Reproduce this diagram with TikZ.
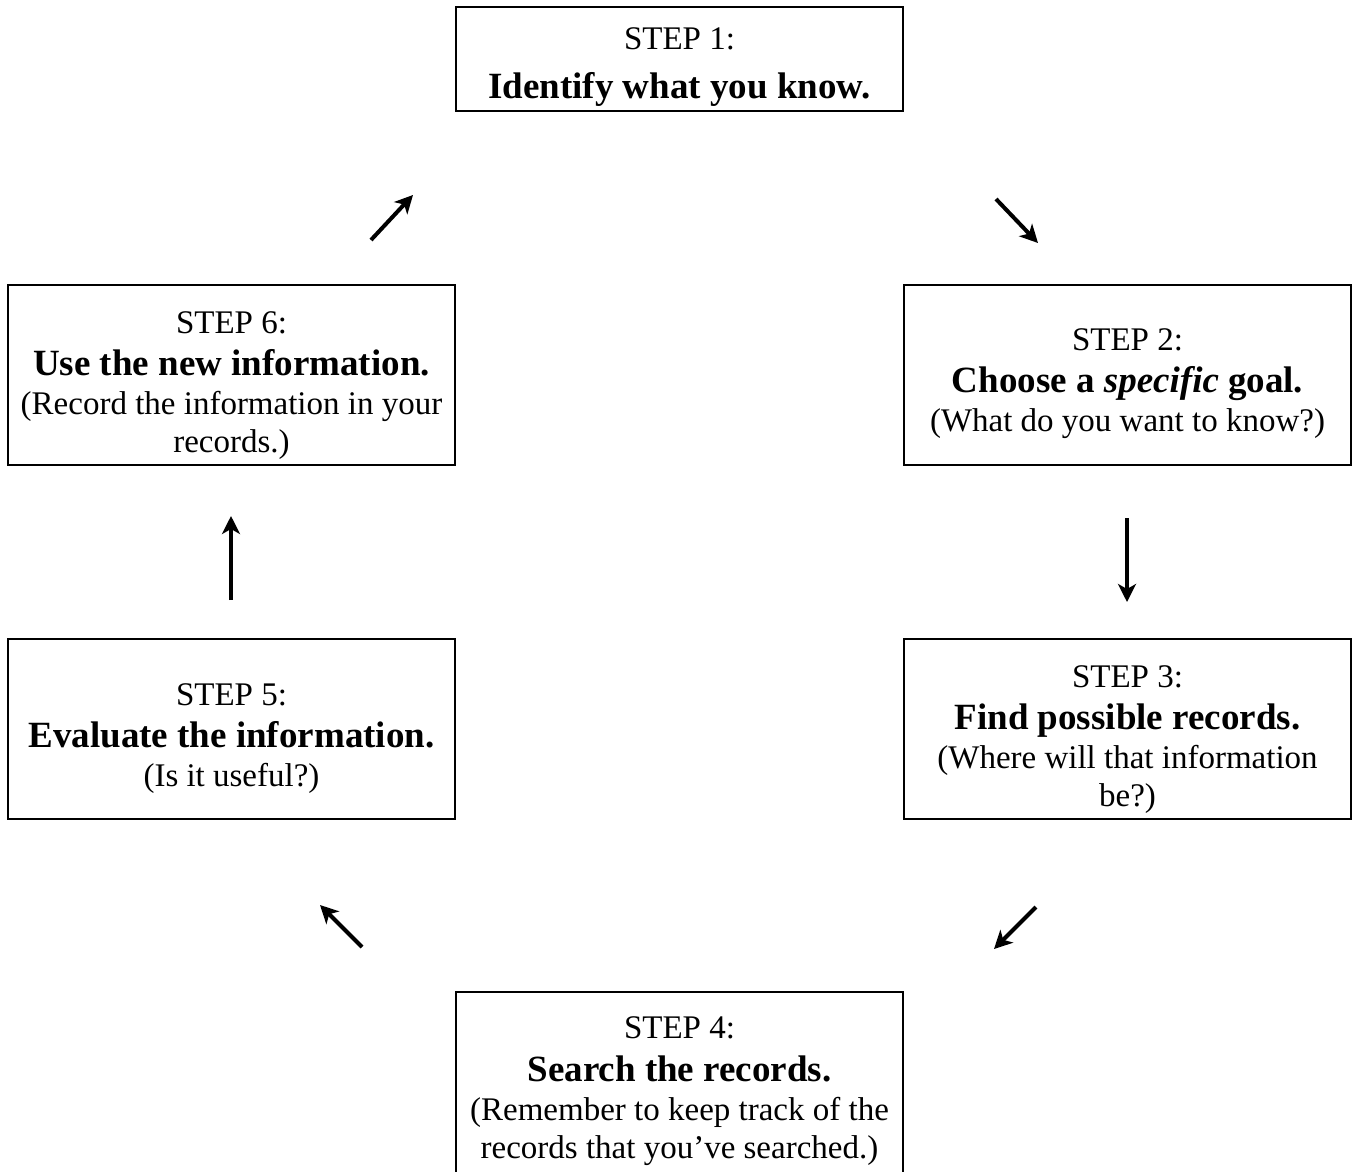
\documentclass[tikz,border=0pt]{standalone}
\usepackage{fontspec}
\setmainfont{Liberation Serif}
\usetikzlibrary{arrows.meta}
\begin{document}
\begin{tikzpicture}[x=1pt,y=-1pt,
  stepbox/.style={draw=black,line width=1.3pt,minimum width=447pt,inner sep=0pt},
  steptext/.style={inner sep=0pt,align=center,font=\fontsize{33}{38}\selectfont},
  arr/.style={line width=4pt,-{Stealth[length=18pt,width=18pt,inset=5pt]}}]
\useasboundingbox (0,0) rectangle (1353,1171);
\newcommand{\bigb}[1]{{\fontsize{37}{42}\selectfont\bfseries #1}}
\node[stepbox,minimum height=104pt] (b1) at (679.5,59) {};
\node[stepbox,minimum height=180pt] (b2) at (1127.5,375) {};
\node[stepbox,minimum height=180pt] (b3) at (1127.5,729) {};
\node[stepbox,minimum height=190pt] (b4) at (679.5,1087) {};
\node[stepbox,minimum height=180pt] (b5) at (231.5,729) {};
\node[stepbox,minimum height=180pt] (b6) at (231.5,375) {};
\node[steptext,yshift=-8pt] (t1) at (b1.center) {STEP 1:\\[11pt]\bigb{Identify what you know.}};
\node[steptext,yshift=-9pt] (t2) at (b2.center) {STEP 2:\\[4pt]\bigb{Choose a \textit{specific} goal.}\\[1pt](What do you want to know?)};
\node[steptext,yshift=-11pt] (t3) at (b3.center) {STEP 3:\\[4pt]\bigb{Find possible records.}\\[1pt](Where will that information\\be?)};
\node[steptext,yshift=-4pt] (t4) at (b4.center) {STEP 4:\\[5pt]\bigb{Search the records.}\\[1pt](Remember to keep track of the\\records that you’ve searched.)};
\node[steptext,yshift=-9.5pt] (t5) at (b5.center) {STEP 5:\\[4pt]\bigb{Evaluate the information.}\\[1pt](Is it useful?)};
\node[steptext,yshift=-10.5pt] (t6) at (b6.center) {STEP 6:\\[4pt]\bigb{Use the new information.}\\[1pt](Record the information in your\\records.)};
\coordinate (a12s) at (996,199); \coordinate (a12e) at (1038,243);
\coordinate (a23s) at (1127,518); \coordinate (a23e) at (1127,602);
\coordinate (a34s) at (1036,907); \coordinate (a34e) at (994,949);
\coordinate (a45s) at (362,947); \coordinate (a45e) at (320,905);
\coordinate (a56s) at (231,600); \coordinate (a56e) at (231,516);
\coordinate (a61s) at (371,240); \coordinate (a61e) at (413,195);
\draw[arr] (a12s) -- (a12e);
\draw[arr] (a23s) -- (a23e);
\draw[arr] (a34s) -- (a34e);
\draw[arr] (a45s) -- (a45e);
\draw[arr] (a56s) -- (a56e);
\draw[arr] (a61s) -- (a61e);
\end{tikzpicture}
\end{document}
